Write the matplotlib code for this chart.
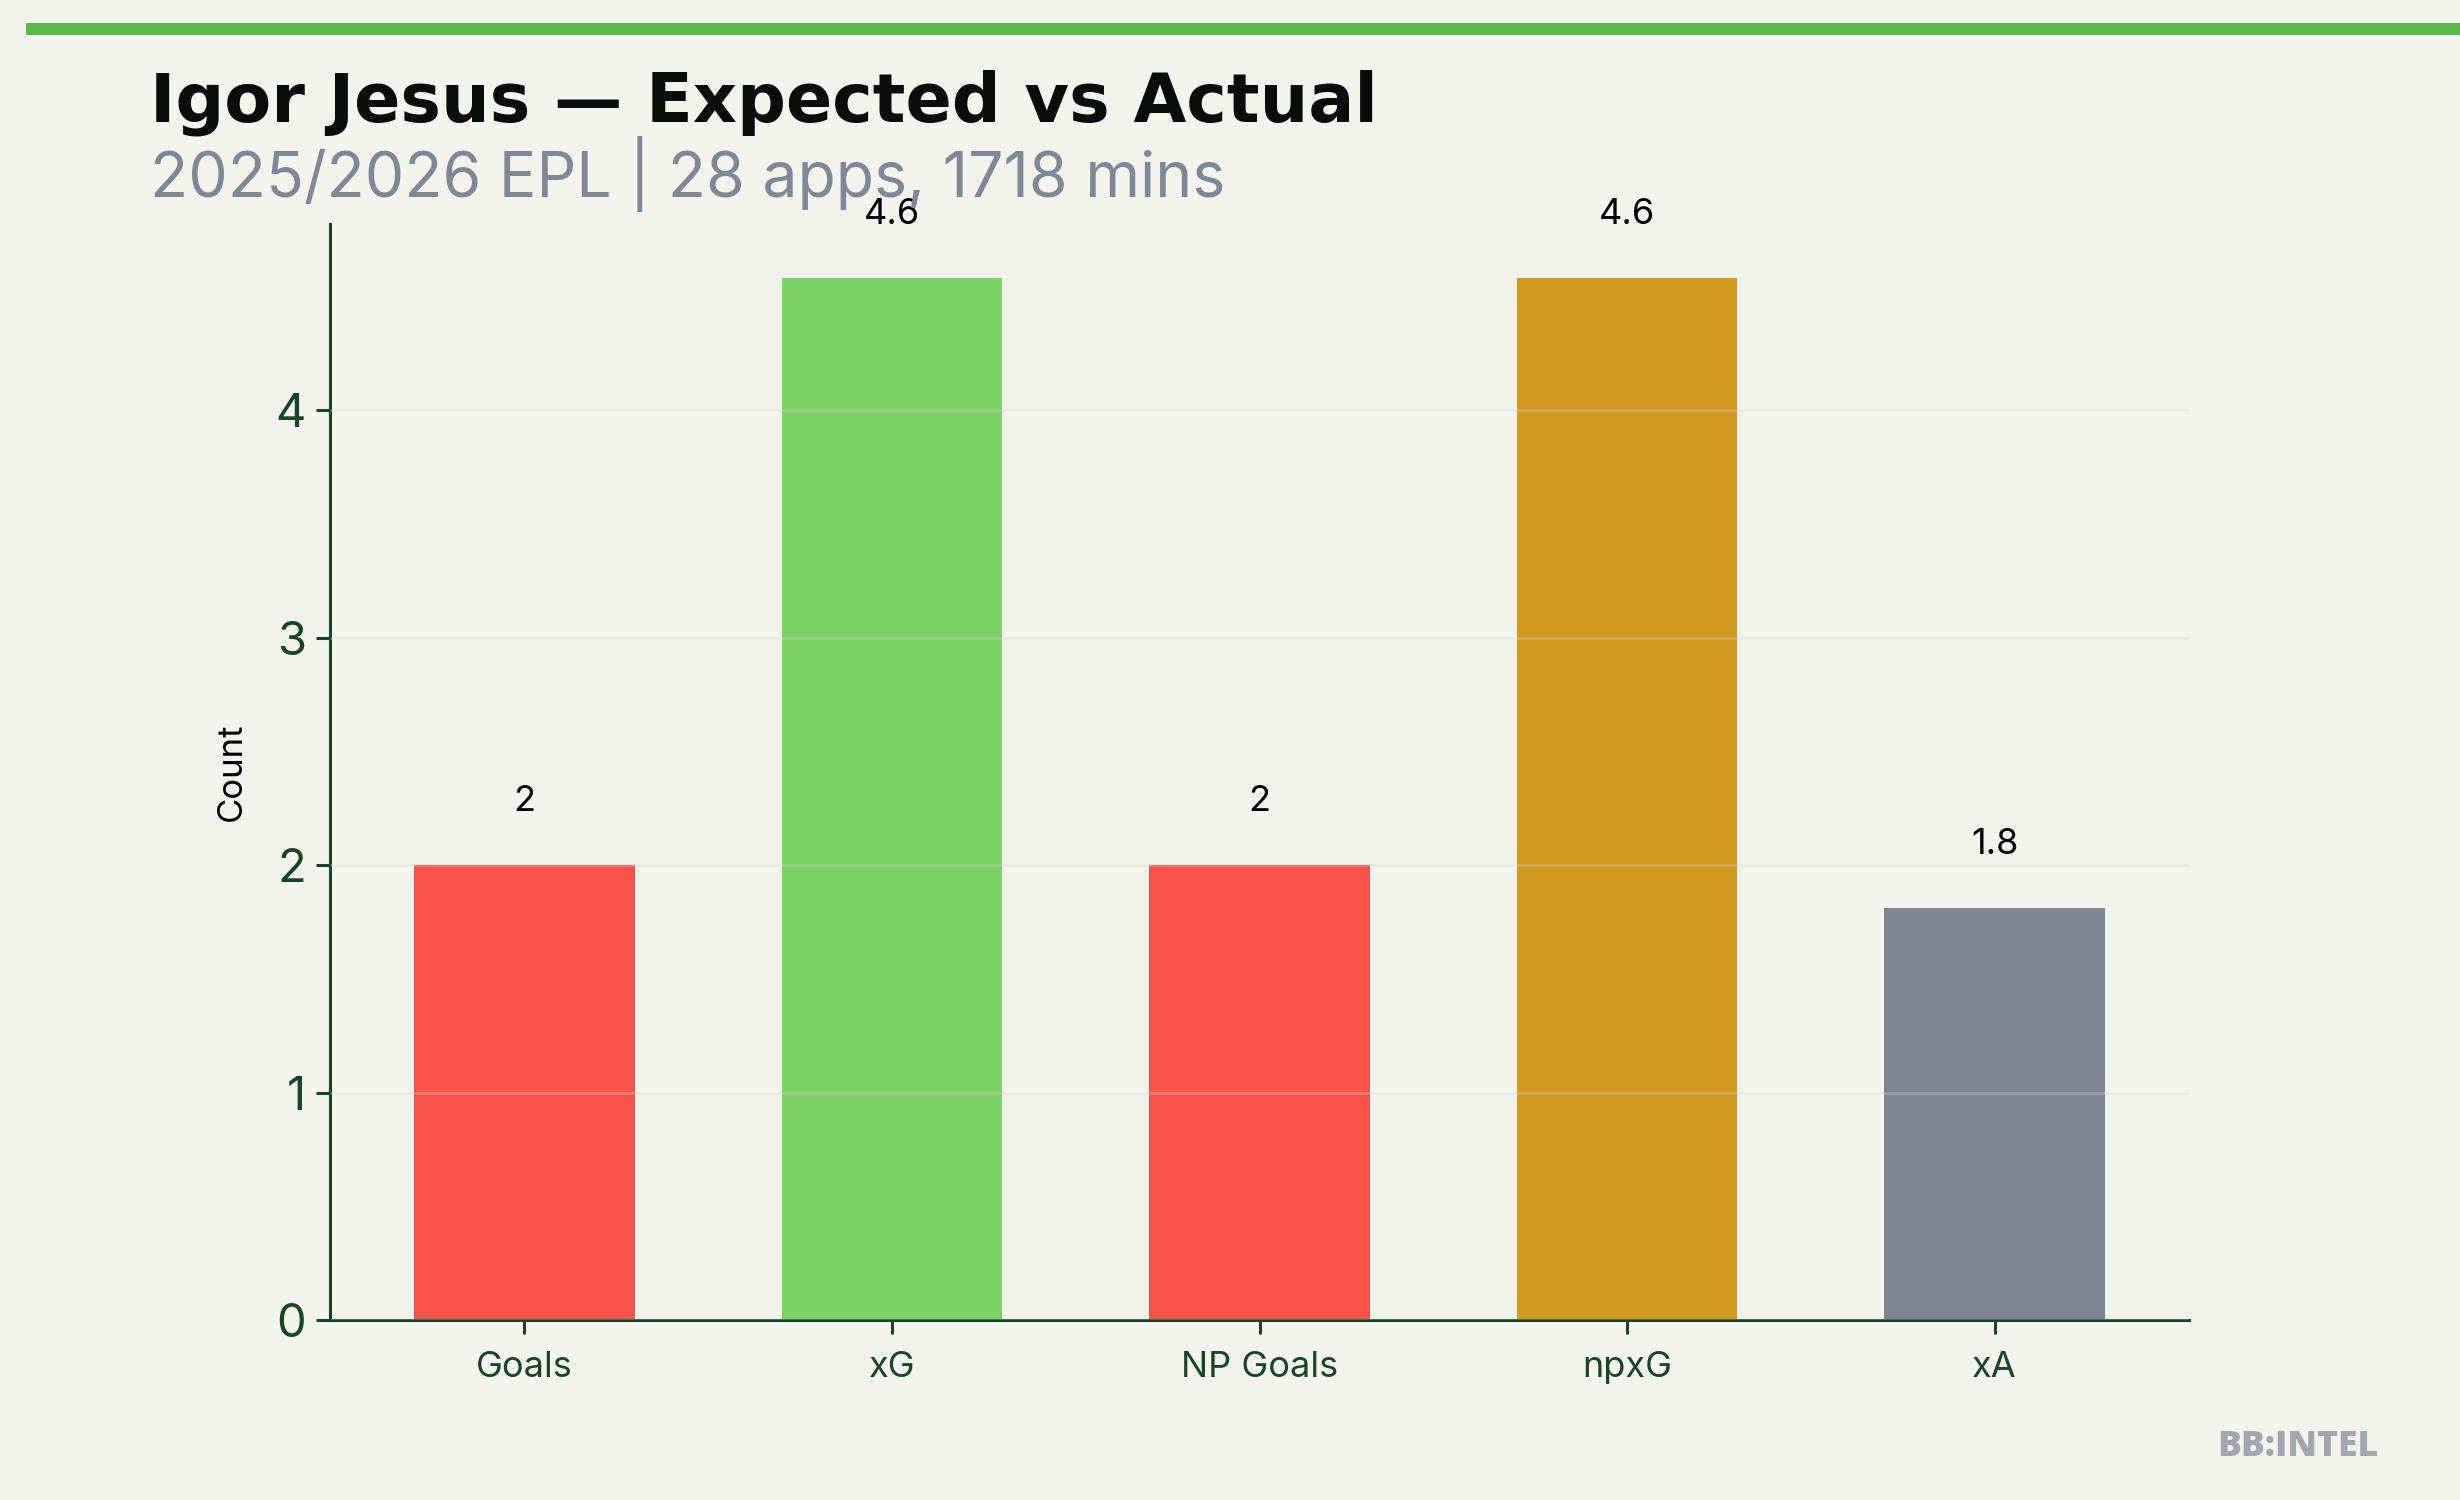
import matplotlib.pyplot as plt
from matplotlib.lines import Line2D

# data
categories = ["Goals", "xG", "NP Goals", "npxG", "xA"]
values = [2, 4.58, 2, 4.58, 1.81]
value_labels = ["2", "4.6", "2", "4.6", "1.8"]
colors = ["#F9534E", "#7DD165", "#F9534E", "#D29922", "#7E8590"]

BG = "#F4F4EF"
DARK = "#1A4524"

plt.rcParams["font.family"] = ["Inter", "DejaVu Sans"]

fig = plt.figure(figsize=(12.3, 7.5), dpi=200, facecolor=BG)
ax = fig.add_axes([0.134, 0.12, 0.756, 0.731], facecolor=BG)

bars = ax.bar(range(len(categories)), values, width=0.6, color=colors, zorder=1)

for b, lab in zip(bars, value_labels):
    ax.annotate(lab, (b.get_x() + b.get_width() / 2, b.get_height()),
                xytext=(0, 19.5), textcoords="offset points",
                ha="center", va="baseline", fontsize=13, color="black")

ax.set_ylim(0, 4.82)
ax.set_xticks(range(len(categories)))
ax.set_xticklabels(categories)
ax.set_yticks([0, 1, 2, 3, 4])
ax.tick_params(axis="y", labelsize=17, colors=DARK, length=5, width=1.1)
ax.tick_params(axis="x", labelsize=13, colors=DARK, length=5, width=1.1, pad=6)
ax.set_ylabel("Count", fontsize=12.5, color="black", labelpad=10)

for s in ["top", "right"]:
    ax.spines[s].set_visible(False)
for s in ["left", "bottom"]:
    ax.spines[s].set_color(DARK)
    ax.spines[s].set_linewidth(1.1)

ax.yaxis.grid(True, color="#D8D8D0", alpha=0.3, linewidth=1, zorder=3)
ax.set_axisbelow(False)

# header
fig.add_artist(Line2D([0.0105, 1.0], [0.981, 0.981], color="#5CB84A",
                      linewidth=4.3, solid_capstyle="butt"))
fig.text(0.061, 0.919, "Igor Jesus — Expected vs Actual", fontsize=24.6,
         fontweight="bold", color="#0A0C0A", family=["DejaVu Sans"])
fig.text(0.061, 0.869, "2025/2026 EPL | 28 apps, 1718 mins", fontsize=22.5,
         color="#808896")
fig.text(0.967, 0.035, "BB:INTEL", fontsize=12.8, fontweight="heavy",
         color="#A3A6AC", ha="right", va="center", family=["Open Sans", "DejaVu Sans"])

fig.savefig("out.png", dpi=200, facecolor=BG)
